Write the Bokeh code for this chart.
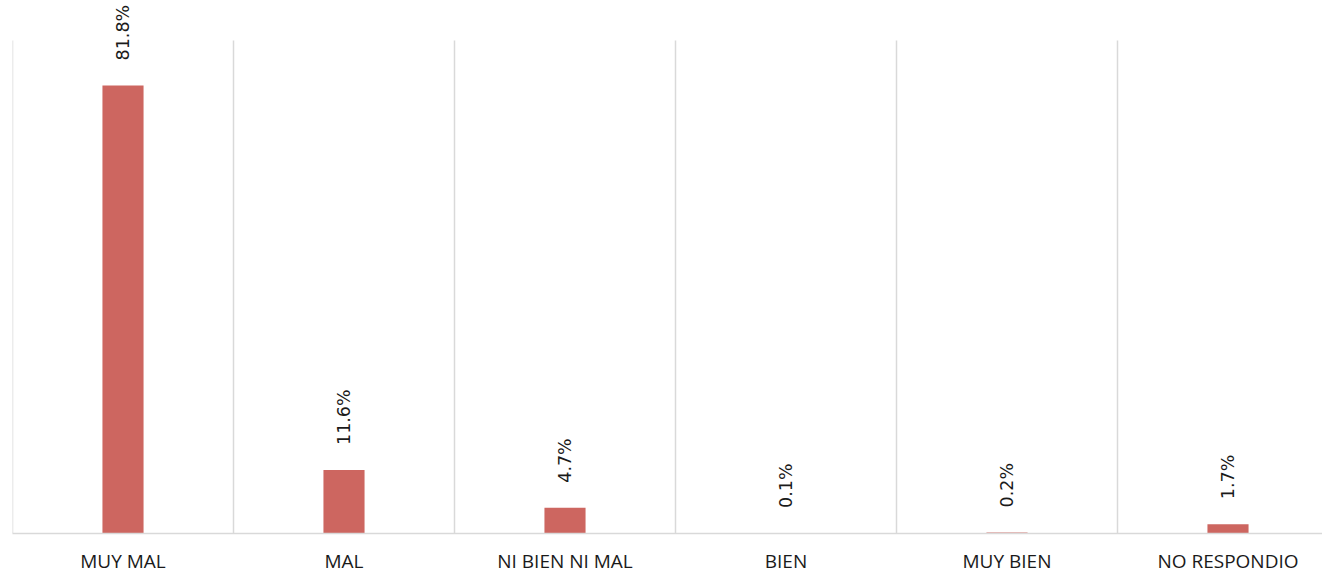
from bokeh.plotting import figure
from bokeh.models import ColumnDataSource, Range1d, FixedTicker
from bokeh.core.properties import value
from bokeh.embed import file_html
from bokeh.resources import INLINE

categories = ["MUY MAL", "MAL", "NI BIEN NI MAL", "BIEN", "MUY BIEN", "NO RESPONDIO"]
values = [81.8, 11.6, 4.7, 0.1, 0.2, 1.7]

n = len(categories)
xs = [i + 0.5 for i in range(n)]
labels = [f"{v:.1f}%" for v in values]
src = ColumnDataSource(dict(x=xs, top=values, label=labels))

axis_max = 90
bounds = list(range(n + 1))

p = figure(width=1322, height=576, output_backend="svg", toolbar_location=None,
           x_range=Range1d(0, 1310 / 221), y_range=Range1d(0, axis_max * 533 / 493),
           min_border_left=12, min_border_right=0, min_border_top=0, min_border_bottom=43)
p.outline_line_color = None
p.background_fill_color = "white"
p.border_fill_color = "white"

# category separators (drawn only up to the top of the value axis)
p.segment(x0=bounds, y0=[0] * len(bounds), x1=bounds, y1=[axis_max] * len(bounds),
          line_color="#d9d9d9", line_width=1.5)

p.vbar(x="x", top="top", width=0.186, bottom=0, source=src, fill_color="#CD6660", line_color=None)
p.text(x="x", y="top", text="label", source=src, angle=1.5708, text_align="left",
       text_baseline="middle", y_offset=-25, text_font=value("DejaVu Sans"),
       text_font_size="17.5px", text_color="#1a1a1a")

p.yaxis.visible = False
p.ygrid.visible = False
p.xgrid.visible = False
p.xaxis.ticker = FixedTicker(ticks=xs)
p.xaxis.major_label_overrides = {x: c for x, c in zip(xs, categories)}
p.xaxis.major_tick_line_color = None
p.xaxis.minor_tick_line_color = None
p.xaxis.major_tick_out = 0
p.xaxis.major_tick_in = 0
p.xaxis.minor_tick_out = 0
p.xaxis.axis_line_color = "#d9d9d9"
p.xaxis.axis_line_width = 1.5
p.xaxis.major_label_standoff = 14
p.xaxis.major_label_text_font = "Open Sans"
p.xaxis.major_label_text_font_size = "19px"
p.xaxis.major_label_text_color = "#1a1a1a"

open("out.html", "w").write(file_html(p, INLINE))
